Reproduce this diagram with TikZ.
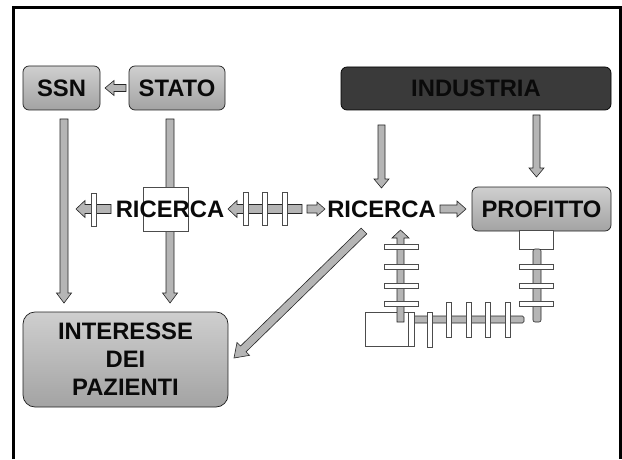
\documentclass[tikz,border=0pt]{standalone}
\usepackage{fontspec}
\setmainfont{Liberation Sans}
\usetikzlibrary{calc}
\definecolor{txt}{HTML}{0A0A0A}
\definecolor{indus}{HTML}{3A3A3A}
\tikzset{
  gbox/.style={draw=gray!25!black, line width=0.7pt, top color=gray!38, bottom color=gray!72, rounded corners=6pt, minimum height=44pt, inner sep=0pt, text=txt, font=\bfseries\fontsize{23.8}{28}\selectfont},
  lbl/.style={inner sep=0pt, text=txt, font=\bfseries\fontsize{23.8}{28}\selectfont},
  blockarrow/.style={fill=gray!58, draw=gray!30!black, line width=0.6pt},
  wbar/.style={fill=white, draw=gray!60!black, line width=0.6pt},
  shaft/.style={fill=gray!58, draw=gray!30!black, line width=0.6pt},
}
\newcommand\barrow[5]{%
  \draw[blockarrow] let \p1=(#1), \p2=(#2), \n1={atan2(\y2-\y1,\x2-\x1)}, \n2={veclen(\x2-\x1,\y2-\y1)} in
  {[shift={(\p1)}, rotate=\n1] (0,-#3) -- (\n2-#5,-#3) -- (\n2-#5,-#4) -- (\n2,0) -- (\n2-#5,#4) -- (\n2-#5,#3) -- (0,#3) -- cycle};}
\begin{document}
\begin{tikzpicture}[x=1pt,y=1pt]
\useasboundingbox (0,0) rectangle (622,459);
\fill[white] (0,0) rectangle (622,459);
% frame
\draw[line width=2.4pt] (13.5,0) -- (13.5,451.5) -- (620.5,451.5) -- (620.5,0);

% boxes
\node[gbox, minimum width=77pt] (ssn) at (61.5,371) {SSN};
\node[gbox, minimum width=96pt] (stato) at (177,371) {STATO};
\node[draw=black, line width=0.7pt, fill=indus, rounded corners=6pt, minimum width=270pt, minimum height=43pt, inner sep=0pt, text=txt, font=\bfseries\fontsize{23.8}{28}\selectfont] (ind) at (476,370.5) {INDUSTRIA};
\node[gbox, minimum width=139pt] (prof) at (541.5,250) {PROFITTO};
\node[gbox, minimum width=205pt, minimum height=95pt, rounded corners=12pt, align=center, font=\bfseries\fontsize{23.8}{28}\selectfont] (int) at (125.5,99.5) {INTERESSE\\DEI\\PAZIENTI};

% arrow endpoints
\coordinate (a1s) at (126,371); \coordinate (a1e) at (105,371);
\coordinate (a2s) at (64,340);  \coordinate (a2e) at (64,156);
\coordinate (a3s) at (170,340); \coordinate (a3e) at (170,156);
\coordinate (a4s) at (111,250); \coordinate (a4e) at (76,250);
\coordinate (a5s) at (302,250); \coordinate (a5e) at (228,250);
\coordinate (a6s) at (307,250); \coordinate (a6e) at (325,250);
\coordinate (a7s) at (440,250); \coordinate (a7e) at (466,250);
\coordinate (a8s) at (381.5,334); \coordinate (a8e) at (381.5,271);
\coordinate (a9s) at (536.5,344); \coordinate (a9e) at (536.5,282);
\coordinate (a10s) at (364,228); \coordinate (a10e) at (234,101);
\coordinate (a11s) at (400.5,137); \coordinate (a11e) at (400.5,229);

\barrow{a1s}{a1e}{3.5}{7.5}{9}
\barrow{a2s}{a2e}{4}{7.5}{10}
\barrow{a3s}{a3e}{4}{7.5}{10}

% white box behind left RICERCA
\node[wbar, minimum width=45pt, minimum height=44pt, inner sep=0pt] (wb) at (165.5,250) {};
\node[lbl] (ric1) at (170,250) {RICERCA};
\node[lbl] (ric2) at (381.5,250) {RICERCA};

\barrow{a4s}{a4e}{4.5}{8.5}{9}
\node[wbar, minimum width=5pt, minimum height=33pt, inner sep=0pt] (b1) at (93.5,249.5) {};
\barrow{a5s}{a5e}{4.5}{8.5}{9}
\node[wbar, minimum width=5pt, minimum height=33pt, inner sep=0pt] (b2) at (245.5,250) {};
\node[wbar, minimum width=5pt, minimum height=33pt, inner sep=0pt] (b3) at (264.5,250) {};
\node[wbar, minimum width=5pt, minimum height=33pt, inner sep=0pt] (b4) at (284.5,250) {};
\barrow{a6s}{a6e}{4}{7}{8}
\barrow{a7s}{a7e}{4}{8}{9}
\barrow{a8s}{a8e}{3.5}{7.5}{9}
\barrow{a9s}{a9e}{3.5}{7.5}{9}
\barrow{a10s}{a10e}{4}{9}{13}

% mechanism right
\node[wbar, minimum width=34pt, minimum height=19pt, inner sep=0pt] (pb) at (536,219.5) {};
\draw[shaft, rounded corners=2pt] (533,210) rectangle (541,137);
\foreach \yy [count=\i] in {192,173,155}{
  \node[wbar, minimum width=34pt, minimum height=5pt, inner sep=0pt] (rb\i) at (536,\yy) {};}

% mechanism bottom-left box
\node[wbar, minimum width=45pt, minimum height=34pt, inner sep=0pt] (lb) at (387.5,130) {};
% horizontal shaft
\draw[shaft, rounded corners=1.5pt] (412,143) rectangle (524,136);
\node[wbar, minimum width=6pt, minimum height=34pt, inner sep=0pt] (tb) at (411,130) {};
\node[wbar, minimum width=5pt, minimum height=35pt, inner sep=0pt] (hb1) at (430,129.5) {};
\foreach \xx [count=\i from 2] in {449,468.5,488,507.5}{
  \node[wbar, minimum width=5pt, minimum height=35pt, inner sep=0pt] (hb\i) at (\xx,139.5) {};}
% upward arrow
\barrow{a11s}{a11e}{3.5}{8.5}{8}
\foreach \yy [count=\i] in {212,192,173,155}{
  \node[wbar, minimum width=34pt, minimum height=5pt, inner sep=0pt] (lb\i) at (401,\yy) {};}
\end{tikzpicture}
\end{document}
